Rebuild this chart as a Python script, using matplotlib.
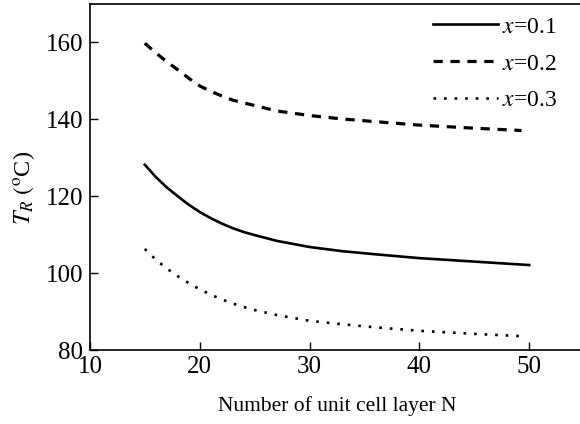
import matplotlib
matplotlib.use('Agg')
import matplotlib.pyplot as plt

plt.rcParams['font.family'] = ['Liberation Serif', 'DejaVu Serif']
plt.rcParams['mathtext.fontset'] = 'stix'

# layer number N
N = [15, 16, 17, 18, 19, 20, 21, 22, 23, 24, 25, 27, 30, 33, 36, 40, 45, 50]
N_short = [15, 16, 17, 18, 19, 20, 21, 22, 23, 24, 25, 27, 30, 33, 36, 40, 45, 49.3]
# T_R (oC) for each composition
t_x01 = [128.2, 125.0, 122.3, 120.0, 117.8, 115.9, 114.3, 112.9, 111.7, 110.7, 109.9,
         108.4, 106.8, 105.7, 104.9, 103.9, 103.0, 102.1]
t_x02 = [159.8, 157.3, 155.0, 152.9, 150.7, 148.7, 147.3, 146.1, 145.0, 144.3, 143.6,
         142.2, 141.0, 140.1, 139.4, 138.5, 137.7, 137.1]
t_x03 = [106.3, 103.5, 101.2, 99.2, 97.4, 95.8, 94.4, 93.2, 92.1, 91.2, 90.4,
         89.1, 87.6, 86.7, 85.9, 85.0, 84.2, 83.6]
labels = ['$x$=0.1', '$x$=0.2', '$x$=0.3']

fig = plt.figure(figsize=(5.8, 4.24), dpi=100)
ax = fig.add_axes([0.155, 0.1745, 0.852, 0.816])

ax.plot(N, t_x01, color='black', lw=1.9, label=labels[0])
ax.plot(N_short, t_x02, color='black', lw=2.3, linestyle=(0, (2.9, 2.4)), label=labels[1])
ax.plot(N_short, t_x03, color='black', lw=1.9, linestyle=(0, (1, 3.0)), label=labels[2])

ax.set_xlim(10, 55)
ax.set_ylim(80, 170)
ax.set_xticks([10, 20, 30, 40, 50])
ax.set_yticks([80, 100, 120, 140, 160])
ax.tick_params(direction='in', length=6, width=1, labelsize=18)
ax.tick_params(axis='x', pad=4)
ax.tick_params(axis='y', pad=5)
for s in ax.spines.values():
    s.set_linewidth(1.2)

ax.set_xlabel('Number of unit cell layer N', fontsize=15.5)
ax.xaxis.label.set_va('center')
ax.xaxis.set_label_coords(0.5, -0.162)
ax.set_ylabel(r'$T_R\ (^{\rm o}$C)', fontsize=17.5)
ax.yaxis.label.set_va('center')
ax.yaxis.set_label_coords(-0.134, 0.468)

ax.legend(loc='upper right', frameon=False, fontsize=17, handlelength=2.75,
          handletextpad=0.15, labelspacing=0.65, borderpad=0, borderaxespad=0,
          bbox_to_anchor=(0.945, 0.965))

fig.savefig('out.png', dpi=100)
